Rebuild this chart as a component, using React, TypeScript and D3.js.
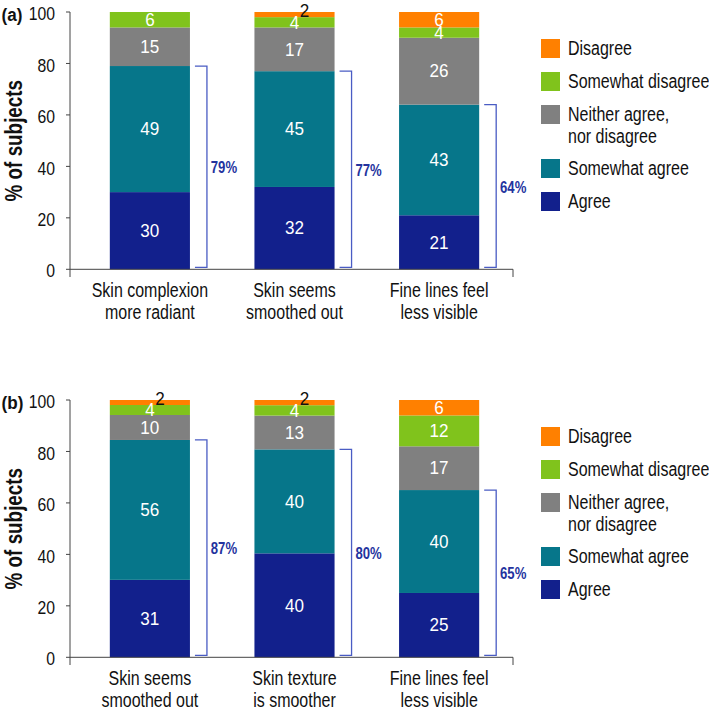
import React from 'react';
import * as d3 from 'd3';

// ---------- data ----------
const seriesNames = ['Agree', 'Somewhat agree', 'Neither', 'Somewhat disagree', 'Disagree'];
const seriesColors = ['#12208c', '#06768a', '#808080', '#80c31c', '#ff8000'];
const legendLabels = [['Disagree'], ['Somewhat disagree'], ['Neither agree,', 'nor disagree'], ['Somewhat agree'], ['Agree']];
const legendColors = ['#ff8000', '#80c31c', '#808080', '#06768a', '#12208c'];
const yTicks = [0, 20, 40, 60, 80, 100];

const categoriesA = [['Skin complexion', 'more radiant'], ['Skin seems', 'smoothed out'], ['Fine lines feel', 'less visible']];
const agreeA = [30, 32, 21];
const somewhatAgreeA = [49, 45, 43];
const neitherA = [15, 17, 26];
const somewhatDisagreeA = [6, 4, 4];
const disagreeA = [0, 2, 6];

const categoriesB = [['Skin seems', 'smoothed out'], ['Skin texture', 'is smoother'], ['Fine lines feel', 'less visible']];
const agreeB = [31, 40, 25];
const somewhatAgreeB = [56, 40, 40];
const neitherB = [10, 13, 17];
const somewhatDisagreeB = [4, 4, 12];
const disagreeB = [2, 2, 6];

const FONT = "'Liberation Sans', Arial, Helvetica, sans-serif";

type NTextProps = {
  x: number; y: number; size: number; anchor?: string; weight?: string; fill?: string; rotate?: number; sx?: number;
  children: React.ReactNode;
};

// Condensed text: Arial-metric font squeezed horizontally
function NText({ x, y, size, anchor = 'start', weight = 'normal', fill = '#111', rotate = 0, sx = 0.82, children }: NTextProps) {
  return (
    <text transform={`translate(${x},${y}) rotate(${rotate}) scale(${sx},1)`} dy="0.35em" textAnchor={anchor}
      fontFamily={FONT} fontWeight={weight} fontSize={size} fill={fill}>{children}</text>
  );
}

type PanelProps = {
  tag: string;
  offsetY: number;
  categories: string[][];
  series: number[][];
};

function Panel({ tag, offsetY, categories, series }: PanelProps) {
  const y = d3.scaleLinear().domain([0, 100]).range([269.3, 12]);
  const keys = categories.map((c) => c.join(' '));
  const x = d3.scaleBand<string>().domain(keys).range([78, 511]).paddingInner(0.446).paddingOuter(0.22);
  const bw = x.bandwidth();

  return (
    <g transform={`translate(0,${offsetY})`}>
      <NText x={1.5} y={14.5} size={19} weight="bold" sx={0.9}>{tag}</NText>
      <NText x={14} y={(y(0) + y(100)) / 2} size={23} weight="bold" anchor="middle" rotate={-90}>% of subjects</NText>
      {keys.map((k, i) => {
        const vals = series.map((s) => s[i]);
        const total = d3.sum(vals);
        let cum = 0;
        const x0 = x(k) as number;
        const cx = x0 + bw / 2;
        const segs = vals.map((v, j) => {
          const lo = cum;
          cum += (v / total) * 100;
          return { v, lo, hi: cum, j };
        });
        const agreeSum = vals[0] + vals[1];
        const bracketTop = y(segs[1].hi);
        const bx = x0 + bw + 5;
        return (
          <g key={k}>
            {segs.map((s) => s.v > 0 && (
              <rect key={s.j} x={x0} width={bw} y={y(s.hi)} height={y(s.lo) - y(s.hi)} fill={seriesColors[s.j]} />
            ))}
            {segs.map((s) => {
              if (s.v <= 0) return null;
              if (s.v <= 2) {
                return <NText key={'t' + s.j} x={cx + 10} y={y(s.hi) - 1.5} size={18} sx={0.95} anchor="middle" fill="#111">{s.v}</NText>;
              }
              return <NText key={'t' + s.j} x={cx} y={(y(s.hi) + y(s.lo)) / 2} size={18} sx={0.95} anchor="middle" fill="#fff">{s.v}</NText>;
            })}
            <path d={`M${bx},${bracketTop}H${bx + 12}V${y(0) - 2}H${bx}`} fill="none" stroke="#4a5cc4" strokeWidth={1.3} />
            <NText x={x0 + bw + 34} y={y((agreeSum / 2) * 100 / total)} size={16} weight="bold" anchor="middle" fill="#24339e">{agreeSum}%</NText>
            {categories[i].map((line, li) => (
              <NText key={li} x={cx} y={290 + li * 22} size={19.5} anchor="middle">{line}</NText>
            ))}
          </g>
        );
      })}
      <line x1={70} x2={70} y1={y(100)} y2={277} stroke="#444" strokeWidth={1} />
      <line x1={70} x2={513} y1={y(0)} y2={y(0)} stroke="#444" strokeWidth={1} />
      <line x1={513} x2={513} y1={y(0)} y2={277} stroke="#444" strokeWidth={1} />
      {yTicks.map((t) => (
        <g key={t}>
          <line x1={66} x2={70} y1={y(t)} y2={y(t)} stroke="#444" strokeWidth={1} />
          <NText x={55} y={y(t) + 2} size={17.5} sx={0.9} anchor="end">{t}</NText>
        </g>
      ))}
      {(() => {
        let ly = 39;
        return legendLabels.map((lines, i) => {
          const top = ly;
          ly += 33 + (lines.length - 1) * 21;
          return (
            <g key={i}>
              <rect x={541} y={top} width={19} height={19} fill={legendColors[i]} />
              {lines.map((l, li) => (
                <NText key={li} x={568} y={top + 9.5 + li * 22} size={19.5}>{l}</NText>
              ))}
            </g>
          );
        });
      })()}
    </g>
  );
}

export default function App() {
  const seriesA = [agreeA, somewhatAgreeA, neitherA, somewhatDisagreeA, disagreeA];
  const seriesB = [agreeB, somewhatAgreeB, neitherB, somewhatDisagreeB, disagreeB];
  return (
    <svg width={709} height={711} style={{ position: 'absolute', left: 0, top: 0, background: '#fff' }}>
      <rect width={709} height={711} fill="#fff" />
      <Panel tag="(a)" offsetY={0} categories={categoriesA} series={seriesA} />
      <Panel tag="(b)" offsetY={388} categories={categoriesB} series={seriesB} />
    </svg>
  );
}
